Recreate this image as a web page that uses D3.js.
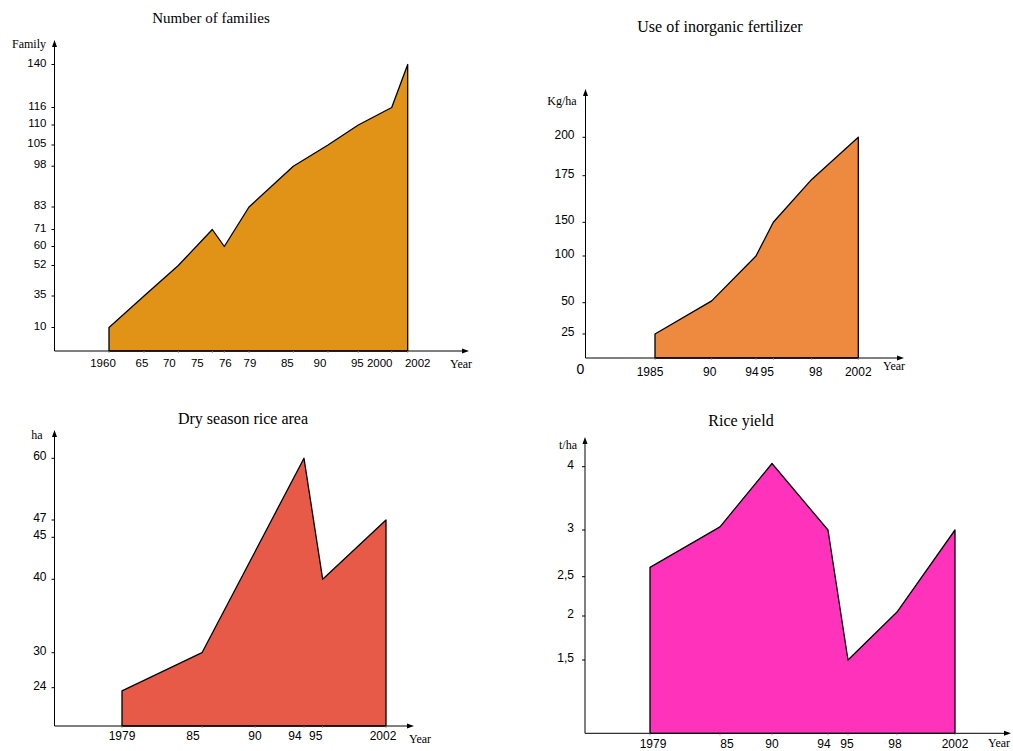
<!DOCTYPE html>
<html>
<head>
<meta charset="utf-8">
<script src="https://cdn.jsdelivr.net/npm/d3@7"></script>
<style>
  html, body { margin: 0; padding: 0; background: #fff; }
  svg { display: block; }
</style>
</head>
<body>
<svg id="chart" width="1013" height="751"></svg>
<script>
// ---------------- DATA ----------------
const familyYears  = [1960, 1965, 1970, 1975, 1976, 1979, 1985, 1990, 1995, 2000, 2002];
const familyValues = [10, 35, 52, 71, 60, 83, 98, 105, 110, 116, 140];
const familyYTicks = [10, 35, 52, 60, 71, 83, 98, 105, 110, 116, 140];
const familyXLabels = ["1960", "65", "70", "75", "76", "79", "85", "90", "95", "2000", "2002"];

const fertYears  = [1985, 1990, 1994, 1995, 1998, 2002];
const fertValues = [25, 52, 100, 150, 173, 200];
const fertYTicks = [25, 50, 100, 150, 175, 200];
const fertXLabels = ["1985", "90", "94", "95", "98", "2002"];

const areaYears  = [1979, 1985, 1994, 1995, 2002];
const areaValues = [22, 30, 60, 40, 47];
const areaYTicks = [24, 30, 40, 45, 47, 60];
const areaXTickYears = [1979, 1985, 1990, 1994, 1995, 2002];
const areaXLabels = ["1979", "85", "90", "94", "95", "2002"];

const yieldYears  = [1979, 1985, 1990, 1994, 1995, 1998, 2002];
const yieldValues = [2.6, 3.05, 4.05, 3, 1.5, 2.05, 3];
const yieldYTicks = [1.5, 2, 2.5, 3, 4];
const yieldYLabels = ["1,5", "2", "2,5", "3", "4"];
const yieldXLabels = ["1979", "85", "90", "94", "95", "98", "2002"];

// ---------------- LAYOUT (hand-drawn, non-uniform axes) ----------------
const panels = [
  {
    title: "Number of families", titleX: 211, titleY: 23, titleSize: 15,
    years: familyYears, values: familyValues, fill: "#E09316",
    xDomain: familyYears, xRange: [109, 144, 178.3, 212.3, 224.3, 249, 293.3, 328, 358.3, 391.7, 407.7],
    xTickYears: familyYears, xLabels: familyXLabels,
    xLabelShift: [-6, -2, -9, -15, 1, 1, -6, -8, -1, -12, 10],
    yDomain: [0, 10, 35, 52, 60, 71, 83, 98, 105, 110, 116, 140],
    yRange: [351, 327.5, 296, 265.5, 246.5, 229.5, 207, 166.2, 145, 125, 107.5, 64.5],
    yTicks: familyYTicks, yLabels: familyYTicks.map(String),
    axisX: 54.5, axisTop: 40, axisRight: 469, labelGap: 8, labelSize: 11.5,
    xLabelY: 363.5, unit: "Family", unitX: 29, unitY: 45,
    yearX: 461, yearY: 365
  },
  {
    title: "Use of inorganic fertilizer", titleX: 720, titleY: 32, titleSize: 16,
    years: fertYears, values: fertValues, fill: "#EE8A3F",
    xDomain: fertYears, xRange: [655, 711.7, 756, 773.3, 811.7, 858.3],
    xTickYears: fertYears, xLabels: fertXLabels,
    xLabelShift: [-5, -2, -4, -6, 4, 0],
    yDomain: [0, 25, 50, 100, 150, 175, 200],
    yRange: [358, 334, 302.7, 256, 222.3, 175.7, 137.3],
    yTicks: fertYTicks, yLabels: fertYTicks.map(String),
    axisX: 585.5, axisTop: 89, axisRight: 904, labelGap: 11, labelSize: 12,
    xLabelY: 373, unit: "Kg/ha", unitX: 562, unitY: 102,
    yearX: 894, yearY: 367, zeroLabel: true
  },
  {
    title: "Dry season rice area", titleX: 243, titleY: 424, titleSize: 16,
    years: areaYears, values: areaValues, fill: "#E85A48",
    xDomain: areaXTickYears, xRange: [122, 202, 255, 304, 322.7, 386],
    xTickYears: areaXTickYears, xLabels: areaXLabels,
    xLabelShift: [0, -9, 0, -9, -7, -3],
    yDomain: [0, 24, 30, 40, 45, 47, 60],
    yRange: [726, 687.7, 652.7, 579.3, 537.3, 520, 458.3],
    yTicks: areaYTicks, yLabels: areaYTicks.map(String),
    axisX: 54.5, axisTop: 430, axisRight: 414, labelGap: 8, labelSize: 12,
    xLabelY: 737, unit: "ha", unitX: 37, unitY: 436,
    yearX: 420, yearY: 740
  },
  {
    title: "Rice yield", titleX: 741, titleY: 426, titleSize: 16,
    years: yieldYears, values: yieldValues, fill: "#FF33BB",
    xDomain: yieldYears, xRange: [650, 720, 772, 828, 848, 897, 955],
    xTickYears: yieldYears, xLabels: yieldXLabels,
    xLabelShift: [3, 7, 0, -4, -1, -2, 0],
    yDomain: [0, 1.5, 2, 2.5, 3, 4],
    yRange: [733.3, 660, 616, 576.7, 530, 466.7],
    yTicks: yieldYTicks, yLabels: yieldYLabels,
    axisX: 585, axisTop: 437, axisRight: 1011, labelGap: 11, labelSize: 12,
    xLabelY: 745, unit: "t/ha", unitX: 568, unitY: 446,
    yearX: 999, yearY: 744
  }
];

const svg = d3.select("#chart");
const serif = "'Liberation Serif', 'Times New Roman', serif";
const sans = "'Liberation Sans', Arial, sans-serif";

panels.forEach(p => {
  const x = d3.scaleLinear().domain(p.xDomain).range(p.xRange);
  const y = d3.scaleLinear().domain(p.yDomain).range(p.yRange);
  const g = svg.append("g");
  const data = p.years.map((yr, i) => ({ year: yr, value: p.values[i] }));
  const base = y(0);

  // filled area
  const area = d3.area()
    .x(d => x(d.year))
    .y0(base)
    .y1(d => y(d.value));
  g.append("path")
    .datum(data)
    .attr("d", area)
    .attr("fill", p.fill)
    .attr("stroke", "#000")
    .attr("stroke-width", 1.3)
    .attr("stroke-linejoin", "round");

  // axes lines
  g.append("line")
    .attr("x1", p.axisX).attr("x2", p.axisX)
    .attr("y1", base).attr("y2", p.axisTop + 6)
    .attr("stroke", "#000").attr("stroke-width", 1);
  g.append("path")
    .attr("d", `M${p.axisX},${p.axisTop} L${p.axisX - 2.5},${p.axisTop + 7} L${p.axisX + 2.5},${p.axisTop + 7} Z`)
    .attr("fill", "#000");
  g.append("line")
    .attr("x1", p.axisX).attr("x2", p.axisRight - 6)
    .attr("y1", base).attr("y2", base)
    .attr("stroke", "#000").attr("stroke-width", 1);
  g.append("path")
    .attr("d", `M${p.axisRight},${base} L${p.axisRight - 7},${base - 2.5} L${p.axisRight - 7},${base + 2.5} Z`)
    .attr("fill", "#000");

  // y ticks
  const yt = g.selectAll(".yt").data(p.yTicks).enter().append("g");
  yt.append("line")
    .attr("x1", p.axisX - 3).attr("x2", p.axisX)
    .attr("y1", d => y(d)).attr("y2", d => y(d))
    .attr("stroke", "#000").attr("stroke-width", 1);
  yt.append("text")
    .attr("x", p.axisX - p.labelGap)
    .attr("y", d => y(d) - 1)
    .attr("text-anchor", "end")
    .attr("dominant-baseline", "middle")
    .attr("font-family", sans)
    .attr("font-size", p.labelSize)
    .text((d, i) => p.yLabels[i]);

  // x ticks
  const xt = g.selectAll(".xt").data(p.xTickYears).enter().append("g");
  xt.append("line")
    .attr("x1", d => x(d)).attr("x2", d => x(d))
    .attr("y1", base).attr("y2", base + 2)
    .attr("stroke", "#888").attr("stroke-width", 0.8);
  xt.append("text")
    .attr("x", (d, i) => x(d) + p.xLabelShift[i])
    .attr("y", p.xLabelY)
    .attr("text-anchor", "middle")
    .attr("dominant-baseline", "middle")
    .attr("font-family", sans)
    .attr("font-size", p.labelSize)
    .text((d, i) => p.xLabels[i]);

  // titles & units
  g.append("text")
    .attr("x", p.titleX).attr("y", p.titleY)
    .attr("text-anchor", "middle")
    .attr("font-family", serif).attr("font-size", p.titleSize)
    .text(p.title);
  g.append("text")
    .attr("x", p.unitX).attr("y", p.unitY)
    .attr("text-anchor", "middle")
    .attr("dominant-baseline", "middle")
    .attr("font-family", serif).attr("font-size", 12)
    .text(p.unit);
  g.append("text")
    .attr("x", p.yearX).attr("y", p.yearY)
    .attr("text-anchor", "middle")
    .attr("dominant-baseline", "middle")
    .attr("font-family", serif).attr("font-size", 12)
    .text("Year");
  if (p.zeroLabel) {
    g.append("text")
      .attr("x", p.axisX - 5).attr("y", base + 12)
      .attr("text-anchor", "middle")
      .attr("dominant-baseline", "middle")
      .attr("font-family", sans).attr("font-size", 14)
      .text("0");
  }
});
</script>
</body>
</html>
